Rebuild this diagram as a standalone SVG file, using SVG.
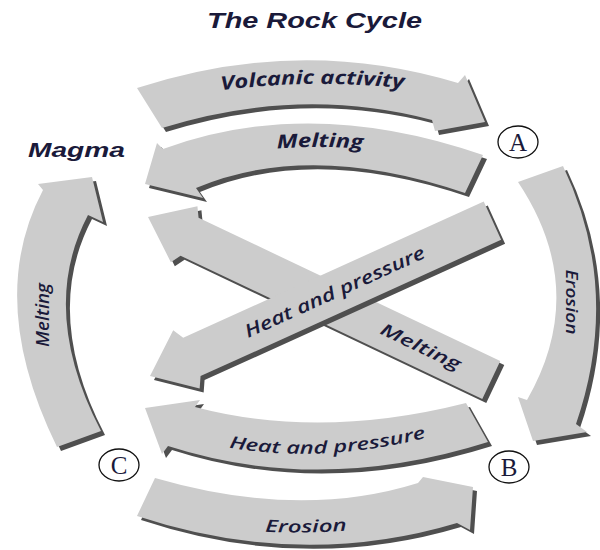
<svg xmlns="http://www.w3.org/2000/svg" width="600" height="550" viewBox="0 0 600 550">
<defs>
<style>
.body{fill:#cccccc}
.shadow{fill:#4f4f4f}
.lbl{font-family:"Open Sans","DejaVu Sans",sans-serif;font-style:italic;font-weight:600;fill:#1a1a3a}
.lbl.b{font-weight:700}
.hd{font-family:"Liberation Sans",Arial,sans-serif;font-style:italic;font-weight:bold;fill:#1a1a3a}
.node ellipse{fill:#ffffff;stroke:#111111;stroke-width:1.3}
.node text{font-family:"Liberation Serif","Times New Roman",serif;font-size:25px;fill:#1a1a3a;text-anchor:middle}
</style>
<path id="volc" d="M137,88 Q300,35 458,83 L465,75 L485,122 L435,131 L432,120 Q300,85 162,128 Z"/>
<path id="meltTop" d="M483,155 Q310,95 163,149 L157,143 L145,184 L203,198 L196,188 Q310,140 465,193 Z"/>
<path id="meltLeft" d="M57,447 Q-15,300 43,190 L38,184 L92,177 L103,222 L88,215 Q38,310 101,431 Z"/>
<path id="eroRight" d="M518,182 Q590,290 527,400 L518,397 L533,441 L587,432 L576,424 Q622,290 563,166 Z"/>
<path id="hpBottom" d="M466,403 Q320,440 195,407 L200,400 L145,408 L162,454 L168,446 Q320,495 488,442 Z"/>
<path id="eroBottom" d="M155,478 Q300,520 418,483 L423,477 L473,487 L470,530 L457,523 Q300,570 137,516 Z"/>
<path id="diagMelt" d="M0,0 L40,-31 L46,-21 L380,-21 L380,21 L46,21 L40,31 Z"/>
<path id="diagHP" d="M0,0 L40,-32 L46,-21 L376,-21 L376,21 L46,21 L40,32 Z"/>
<path id="tpVolc" d="M215,91 Q311,78 410,89"/>
<path id="tpMelt" d="M250,151 Q320,143 390,151"/>
<path id="tpHP" d="M215,445 Q322,467 440,434"/>
<path id="tpEro" d="M240,530 Q306,536 372,528"/>
</defs>
<rect width="600" height="550" fill="#ffffff"/>
<text class="hd" x="207" y="28" font-size="22" textLength="215" lengthAdjust="spacingAndGlyphs">The Rock Cycle</text>
<g id="connectors">
  <g id="arrow-volcanic">
    <use href="#volc" class="shadow" transform="translate(4,4)"/>
    <use href="#volc" class="body"/>
    <text class="lbl b" font-size="19"><textPath href="#tpVolc" startOffset="50%" text-anchor="middle" textLength="183" lengthAdjust="spacingAndGlyphs">Volcanic activity</textPath></text>
  </g>
  <g id="arrow-melting-top">
    <use href="#meltTop" class="shadow" transform="translate(4,4)"/>
    <use href="#meltTop" class="body"/>
    <text class="lbl b" font-size="19"><textPath href="#tpMelt" startOffset="50%" text-anchor="middle" textLength="86" lengthAdjust="spacingAndGlyphs">Melting</textPath></text>
  </g>
  <g id="arrow-melting-left">
    <use href="#meltLeft" class="shadow" transform="translate(4,4)"/>
    <use href="#meltLeft" class="body"/>
    <text class="lbl" font-size="18" transform="translate(49,315) rotate(-90)" text-anchor="middle" textLength="64" lengthAdjust="spacingAndGlyphs">Melting</text>
  </g>
  <g id="arrow-erosion-right">
    <use href="#eroRight" class="shadow" transform="translate(4,4)"/>
    <use href="#eroRight" class="body"/>
    <text class="lbl" font-size="17" transform="translate(566,302) rotate(90)" text-anchor="middle" textLength="65" lengthAdjust="spacingAndGlyphs">Erosion</text>
  </g>
  <g id="arrow-heat-bottom">
    <use href="#hpBottom" class="shadow" transform="translate(4,4)"/>
    <use href="#hpBottom" class="body"/>
    <text class="lbl" font-size="17"><textPath href="#tpHP" startOffset="50%" text-anchor="middle" textLength="199" lengthAdjust="spacingAndGlyphs">Heat and pressure</textPath></text>
  </g>
  <g id="arrow-erosion-bottom">
    <use href="#eroBottom" class="shadow" transform="translate(4,4)"/>
    <use href="#eroBottom" class="body"/>
    <text class="lbl" font-size="17"><textPath href="#tpEro" startOffset="50%" text-anchor="middle" textLength="82" lengthAdjust="spacingAndGlyphs">Erosion</textPath></text>
  </g>
  <g id="arrow-melting-diag">
    <g transform="translate(4,4)"><use href="#diagMelt" class="shadow" transform="translate(148,217) rotate(25.4)"/></g>
    <g transform="translate(148,217) rotate(25.4)">
      <use href="#diagMelt" class="body"/>
      <text class="lbl" font-size="17" x="302" y="6" text-anchor="middle" textLength="87" lengthAdjust="spacingAndGlyphs">Melting</text>
    </g>
  </g>
  <g id="arrow-heat-diag">
    <g transform="translate(4,4)"><use href="#diagHP" class="shadow" transform="translate(150,376) rotate(-24.4)"/></g>
    <g transform="translate(150,376) rotate(-24.4)">
      <use href="#diagHP" class="body"/>
      <text class="lbl" font-size="18" x="203" y="6" text-anchor="middle" textLength="196" lengthAdjust="spacingAndGlyphs">Heat and pressure</text>
    </g>
  </g>
</g>
<g id="node-magma">
  <text class="hd" x="28" y="157" font-size="20" textLength="97" lengthAdjust="spacingAndGlyphs">Magma</text>
</g>
<g id="node-a" class="node">
  <ellipse cx="518" cy="142" rx="20" ry="16"/>
  <text x="518" y="151">A</text>
</g>
<g id="node-b" class="node">
  <ellipse cx="509" cy="467" rx="20" ry="16"/>
  <text x="509" y="476">B</text>
</g>
<g id="node-c" class="node">
  <ellipse cx="119" cy="465" rx="20" ry="16"/>
  <text x="119" y="474">C</text>
</g>
</svg>
